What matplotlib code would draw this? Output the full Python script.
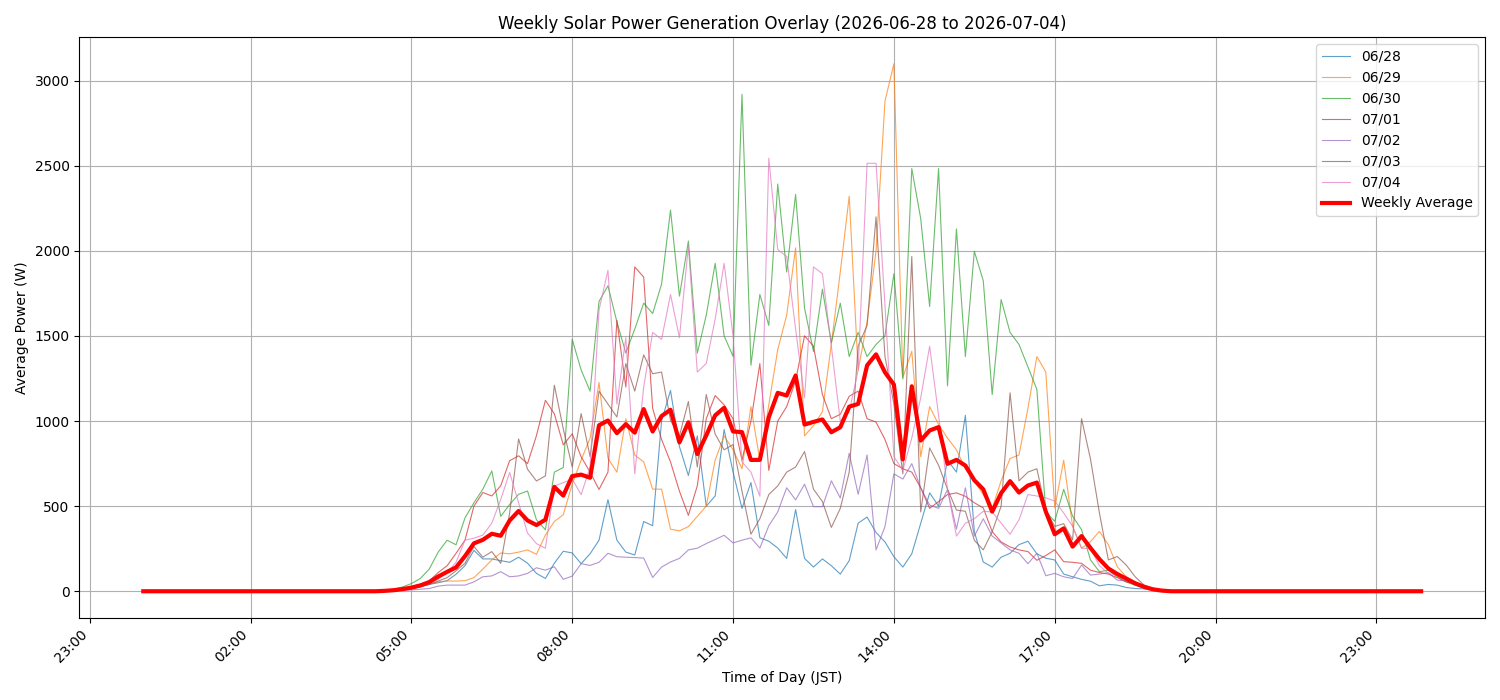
import numpy as np
import pandas as pd
import matplotlib
matplotlib.use('Agg')
import matplotlib.pyplot as plt
import matplotlib.dates as mdates

# 10-minute bins over one day; values below only cover 04:20 - 19:10, the rest is 0
times = pd.date_range('2026-06-28 00:00', periods=144, freq='10min')
startIndex = 26  # 04:20

dayLabels = ['06/28', '06/29', '06/30', '07/01', '07/02', '07/03', '07/04']

power0628 = [0, 2, 5, 10,
             18, 28, 40, 50, 62, 100,
             150, 240, 190, 190, 180, 170,
             200, 165, 105, 75, 165, 235,
             225, 162, 220, 300, 538, 300,
             230, 213, 410, 385, 1000, 1180,
             850, 680, 913, 500, 560, 950,
             700, 487, 639, 314, 294, 254,
             193, 480, 193, 142, 190, 150,
             101, 180, 400, 436, 345, 290,
             203, 142, 220, 400, 578, 500,
             771, 700, 1034, 350, 172, 142,
             200, 223, 274, 294, 220, 194,
             184, 101, 85, 70, 59, 32,
             40, 36, 22, 16, 14, 6,
             2, 0]
power0629 = [0, 2, 5, 12,
             20, 30, 45, 55, 60, 60,
             62, 80, 130, 184, 225, 220,
             230, 243, 217, 330, 410, 450,
             629, 771, 900, 1227, 781, 700,
             1014, 800, 760, 600, 600, 365,
             355, 380, 440, 500, 771, 913,
             831, 720, 1085, 771, 1095, 1420,
             1622, 2018, 913, 973, 1055, 1453,
             1876, 2322, 1298, 1582, 1998, 2880,
             3100, 1257, 1410, 791, 1085, 980,
             900, 831, 720, 649, 568, 487,
             649, 780, 801, 1075, 1379, 1288,
             490, 770, 381, 253, 292, 352,
             273, 144, 85, 55, 35, 15,
             5, 0]
power0630 = [0, 5, 12, 25,
             45, 75, 130, 230, 300, 273,
             431, 520, 600, 707, 440, 510,
             570, 589, 420, 361, 700, 727,
             1480, 1300, 1176, 1703, 1795, 1583,
             1400, 1541, 1693, 1632, 1805, 2240,
             1734, 2058, 1399, 1622, 1927, 1501,
             1380, 2920, 1328, 1744, 1562, 2393,
             1876, 2332, 1663, 1409, 1775, 1460,
             1693, 1379, 1521, 1379, 1450, 1501,
             1866, 1247, 2484, 2190, 1673, 2484,
             1207, 2129, 1379, 1998, 1825, 1156,
             1714, 1521, 1450, 1318, 1186, 466,
             411, 599, 441, 362, 184, 115,
             124, 85, 55, 35, 20, 10,
             3, 0]
power0701 = [0, 3, 8, 15,
             25, 40, 60, 110, 150, 223,
             300, 500, 580, 560, 620, 767,
             796, 750, 915, 1122, 1043, 860,
             925, 790, 700, 598, 700, 1592,
             1200, 1906, 1846, 1075, 892, 760,
             588, 446, 620, 1014, 1150, 1095,
             1014, 771, 1000, 1338, 710, 1000,
             1085, 1237, 1501, 1440, 1156, 1014,
             1040, 1146, 1176, 1014, 994, 892,
             750, 720, 700, 608, 487, 527,
             568, 578, 558, 520, 490, 350,
             290, 260, 243, 233, 182, 210,
             243, 174, 170, 164, 124, 110,
             101, 80, 55, 41, 25, 12,
             5, 0]
power0702 = [0, 0, 2, 5,
             8, 12, 16, 30, 36, 36,
             36, 55, 85, 90, 115, 85,
             90, 105, 138, 124, 144, 70,
             89, 162, 152, 170, 223, 203,
             200, 198, 195, 81, 142, 172,
             193, 243, 253, 280, 304, 329,
             284, 300, 314, 254, 385, 466,
             608, 537, 629, 497, 497, 649,
             548, 811, 570, 801, 243, 380,
             690, 659, 750, 608, 507, 487,
             598, 365, 608, 324, 426, 324,
             284, 243, 223, 162, 223, 91,
             105, 85, 75, 154, 95, 101,
             109, 65, 61, 38, 22, 10,
             3, 0]
power0703 = [0, 2, 5, 10,
             15, 25, 40, 60, 80, 120,
             164, 263, 200, 233, 164, 460,
             895, 717, 648, 678, 1211, 954,
             730, 1044, 791, 1176, 1100, 1024,
             1338, 1176, 1389, 1278, 1288, 1004,
             913, 1115, 730, 1156, 923, 831,
             862, 588, 335, 426, 568, 619,
             700, 730, 821, 600, 527, 375,
             487, 700, 1440, 1562, 2200, 1379,
             1100, 690, 1967, 466, 842, 740,
             600, 477, 470, 300, 243, 350,
             500, 1166, 649, 700, 720, 477,
             381, 397, 302, 1014, 777, 460,
             184, 204, 154, 85, 36, 14,
             4, 0]
power0704 = [0, 2, 5, 10,
             18, 30, 45, 70, 110, 170,
             300, 312, 330, 400, 539, 698,
             520, 342, 280, 253, 618, 638,
             659, 568, 730, 1653, 1886, 1100,
             1490, 690, 1200, 1521, 1480, 1744,
             1490, 2028, 1288, 1338, 1600, 1927,
             1501, 760, 700, 558, 2545, 2008,
             1967, 1541, 1136, 1906, 1866, 1440,
             1000, 1055, 1300, 2515, 2515, 1683,
             791, 710, 900, 1136, 1440, 1034,
             598, 324, 400, 426, 470, 466,
             400, 335, 420, 568, 560, 549,
             530, 460, 381, 253, 250, 150,
             105, 95, 85, 55, 30, 12,
             4, 0]

dailyPower = [power0628, power0629, power0630, power0701, power0702, power0703, power0704]

def fullDay(values):
    # pad the daylight window with zeros for night hours
    return np.array([0] * startIndex + values + [0] * (len(times) - startIndex - len(values)), dtype=float)

fullDays = [fullDay(v) for v in dailyPower]
weeklyAverage = np.mean(fullDays, axis=0)

fig, ax = plt.subplots(figsize=(15, 7), dpi=100)
for i, (label, values) in enumerate(zip(dayLabels, fullDays)):
    ax.plot(times, values, color=f'C{i}', linewidth=0.8, alpha=0.7, label=label)
ax.plot(times, weeklyAverage, color='red', linewidth=3, label='Weekly Average')

ax.xaxis.set_major_locator(mdates.HourLocator(byhour=range(2, 24, 3)))
ax.xaxis.set_major_formatter(mdates.DateFormatter('%H:%M'))
plt.setp(ax.get_xticklabels(), rotation=45, ha='right')

ax.set_title('Weekly Solar Power Generation Overlay (2026-06-28 to 2026-07-04)')
ax.set_xlabel('Time of Day (JST)')
ax.set_ylabel('Average Power (W)')
ax.grid(True)
ax.legend(loc='upper right')
plt.tight_layout()
plt.savefig('out.png')
